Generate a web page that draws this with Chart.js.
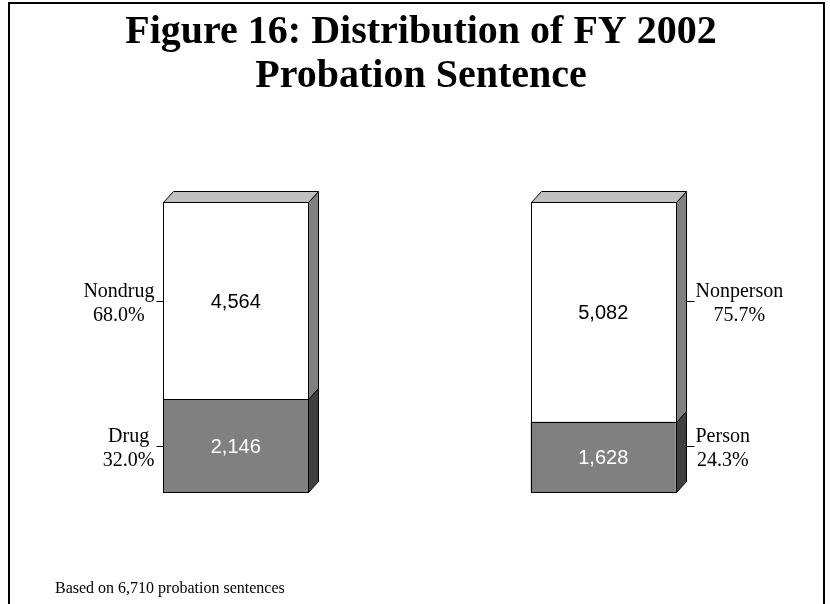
<!DOCTYPE html>
<html>
<head>
<meta charset="utf-8">
<title>Distribution of FY 2002 Probation Sentence</title>
<script src="https://cdn.jsdelivr.net/npm/chart.js@4.4.1/dist/chart.umd.min.js"></script>
<style>
  html, body { margin: 0; padding: 0; background: #fff; }
  #wrap { width: 830px; height: 604px; }
</style>
</head>
<body>
<div id="wrap"><canvas id="probationChart" width="830" height="604"></canvas></div>
<script>
var categories = ["Drug", "Person"];
var lowerNames = ["Drug", "Person"];
var upperNames = ["Nondrug", "Nonperson"];
var lowerCounts = [2146, 1628];
var upperCounts = [4564, 5082];
var totalSentences = 6710;

var titleLines = ["Figure 16: Distribution of FY 2002", "Probation Sentence"];
var footNote = "Based on 6,710 probation sentences";

var SERIF = '"Liberation Serif", "Times New Roman", serif';
var SANS = '"Liberation Sans", Arial, sans-serif';
var DX = 10, DY = 11;   // depth of the fake 3d box

var fmt = function(v) {
    return v.toLocaleString("en-US");
}

var pct = function(v) {
    return (v / totalSentences * 100).toFixed(1) + "%";
}

function face(ctx, pts, fill) {
    ctx.beginPath();
    ctx.moveTo(pts[0][0], pts[0][1]);
    for (var k = 1; k < pts.length; k++) {
        ctx.lineTo(pts[k][0], pts[k][1]);
    }
    ctx.closePath();
    ctx.fillStyle = fill;
    ctx.fill();
    ctx.stroke();
}

// two lines centred inside a block that is pinned to one edge
function blockLabel(ctx, lines, edgeX, side, y) {
    var w = 0;
    for (var k = 0; k < lines.length; k++) {
        w = Math.max(w, ctx.measureText(lines[k]).width);
    }
    var cx = side === "left" ? edgeX - w / 2 : edgeX + w / 2;
    ctx.textAlign = "center";
    ctx.fillText(lines[0], cx, y - 4.5);
    ctx.fillText(lines[1], cx, y + 19);
}

var boxPlugin = {
    id: "box3d",
    afterDatasetsDraw: function(chart) {
        var ctx = chart.ctx;
        ctx.save();
        ctx.lineWidth = 1;
        ctx.strokeStyle = "#000";
        for (var i = 0; i < categories.length; i++) {
            var lo = chart.getDatasetMeta(0).data[i];
            var hi = chart.getDatasetMeta(1).data[i];
            var l = Math.round(lo.x - lo.width / 2) + 0.5;
            var r = Math.round(lo.x + lo.width / 2) + 0.5;
            var yBot = Math.round(lo.base) + 0.5;
            var yMid = Math.round(lo.y) + 0.5;
            var yTop = Math.round(hi.y) + 0.5;

            // side and top faces
            face(ctx, [[r, yMid], [r + DX, yMid - DY], [r + DX, yBot - DY], [r, yBot]], "#404040");
            face(ctx, [[r, yTop], [r + DX, yTop - DY], [r + DX, yMid - DY], [r, yMid]], "#808080");
            face(ctx, [[l, yTop], [l + DX, yTop - DY], [r + DX, yTop - DY], [r, yTop]], "#c0c0c0");

            // front outline
            ctx.strokeRect(l, yTop, r - l, yBot - yTop);
            ctx.beginPath();
            ctx.moveTo(l, yMid);
            ctx.lineTo(r, yMid);
            ctx.stroke();

            // counts on the front faces
            ctx.font = "20px " + SANS;
            ctx.textAlign = "center";
            ctx.textBaseline = "middle";
            ctx.fillStyle = "#fff";
            ctx.fillText(fmt(lowerCounts[i]), lo.x, (lo.y + lo.base) / 2 + 2);
            ctx.fillStyle = "#000";
            ctx.fillText(fmt(upperCounts[i]), hi.x, (hi.y + hi.base) / 2 + 2);

            // names and shares with short leader lines
            ctx.font = "20px " + SERIF;
            ctx.textBaseline = "alphabetic";
            var midLo = (lo.y + lo.base) / 2;
            var midHi = (hi.y + hi.base) / 2;
            ctx.beginPath();
            if (i === 0) {
                var yl = Math.round(midLo) + 0.5, yh = Math.round(midHi) + 0.5;
                ctx.moveTo(l - 7, yh); ctx.lineTo(l, yh);
                ctx.moveTo(l - 7, yl); ctx.lineTo(l, yl);
                ctx.stroke();
                blockLabel(ctx, [upperNames[i], pct(upperCounts[i])], l - 9, "left", yh);
                blockLabel(ctx, [lowerNames[i], pct(lowerCounts[i])], l - 9, "left", yl);
            } else {
                var yl2 = Math.round(midLo - DY) + 0.5, yh2 = Math.round(midHi - DY) + 0.5;
                ctx.moveTo(r + DX, yh2); ctx.lineTo(r + DX + 8, yh2);
                ctx.moveTo(r + DX, yl2); ctx.lineTo(r + DX + 8, yl2);
                ctx.stroke();
                blockLabel(ctx, [upperNames[i], pct(upperCounts[i])], r + DX + 9, "right", yh2);
                blockLabel(ctx, [lowerNames[i], pct(lowerCounts[i])], r + DX + 9, "right", yl2);
            }
        }
        ctx.restore();
    },
    afterDraw: function(chart) {
        var ctx = chart.ctx;
        ctx.save();
        // frame
        ctx.lineWidth = 2;
        ctx.strokeStyle = "#000";
        ctx.strokeRect(9, 3, 815, 700);
        // heading
        ctx.fillStyle = "#000";
        ctx.textAlign = "center";
        ctx.textBaseline = "alphabetic";
        ctx.font = "bold 40px " + SERIF;
        ctx.fillText(titleLines[0], 421, 43);
        ctx.fillText(titleLines[1], 421, 87);
        // note at the bottom
        ctx.textAlign = "left";
        ctx.font = "16px " + SERIF;
        ctx.fillText(footNote, 55, 593);
        ctx.restore();
    }
};

new Chart(document.getElementById("probationChart").getContext("2d"), {
    type: "bar",
    data: {
        labels: categories,
        datasets: [
            {
                label: "Drug / Person",
                data: lowerCounts,
                backgroundColor: "#808080",
                borderWidth: 0
            },
            {
                label: "Nondrug / Nonperson",
                data: upperCounts,
                backgroundColor: "#ffffff",
                borderWidth: 0
            }
        ]
    },
    options: {
        responsive: false,
        animation: false,
        devicePixelRatio: 1,
        barPercentage: 0.3947,
        categoryPercentage: 1,
        layout: {
            padding: {left: 52, right: 43, top: 202, bottom: 112}
        },
        scales: {
            x: {stacked: true, display: false},
            y: {stacked: true, display: false, min: 0, max: totalSentences}
        },
        plugins: {
            legend: {display: false},
            tooltip: {enabled: false}
        }
    },
    plugins: [boxPlugin]
});
</script>
</body>
</html>
